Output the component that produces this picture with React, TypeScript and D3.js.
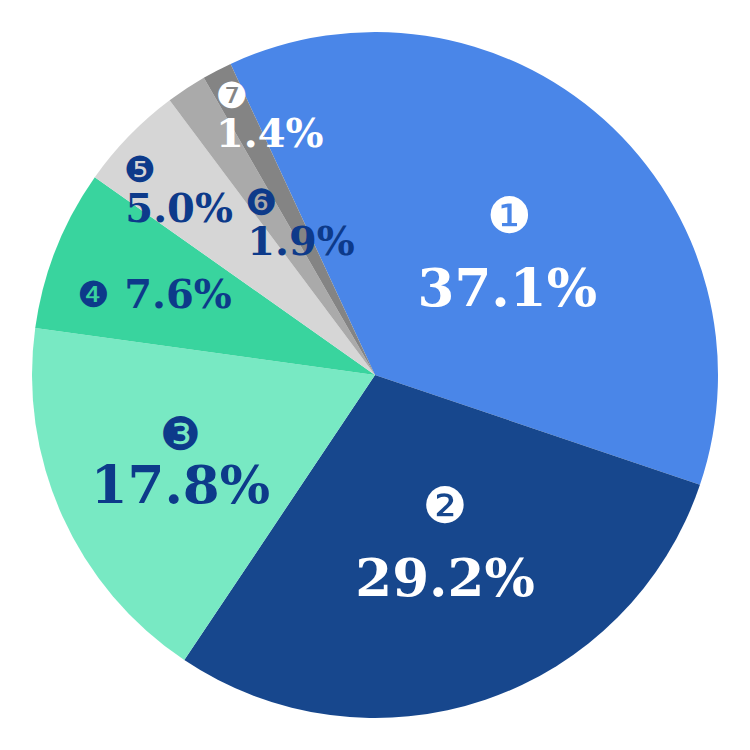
import React, { useRef, useEffect } from 'react';
import * as d3 from 'd3';

// slice data, clockwise from the top
const markers = ['❶', '❷', '❸', '❹', '❺', '❻', '❼'];
const shares = [37.1, 29.2, 17.8, 7.6, 5.0, 1.9, 1.4];
const sliceColors = ['#4a86e8', '#17478d', '#78e9c3', '#39d49e', '#d6d6d6', '#aaaaaa', '#848484'];
const labelColors = ['#ffffff', '#ffffff', '#0d3a8a', '#0d3a8a', '#0d3a8a', '#0d3a8a', '#ffffff'];

// label placement: polar position of the text centre (deg from top, radius),
// marker offset from that centre, and font sizes
const labelLayout = [
  { a: 56.3, r: 159, mx: 2, my: -72, fs: 53, ms: 50 },
  { a: 160.9, r: 214, mx: 0, my: -72, fs: 53, ms: 50 },
  { a: 240.8, r: 223, mx: 0, my: -50, fs: 53, ms: 46 },
  { a: 292.4, r: 213, mx: -85, my: 0, fs: 40, ms: 36 },
  { a: 310.6, r: 258, mx: -39, my: -38, fs: 40, ms: 36 },
  { a: 331.1, r: 153, mx: -40, my: -39, fs: 40, ms: 36 },
  { a: 336.5, r: 264, mx: -38, my: -38, fs: 40, ms: 36 },
];

const W = 750;
const H = 750;
const START = -24.9; // degrees

const App: React.FC = () => {
  const svgRef = useRef<SVGSVGElement>(null);

  useEffect(() => {
    const svg = d3.select(svgRef.current);
    svg.selectAll('*').remove();

    const cx = 375;
    const cy = 375;
    const radius = 343;
    const rad = (deg: number) => (deg * Math.PI) / 180;

    const g = svg.append('g').attr('transform', `translate(${cx},${cy})`);

    const pie = d3.pie<number>()
      .sort(null)
      .value(d => d)
      .startAngle(rad(START))
      .endAngle(rad(START + 360));

    const arc = d3.arc<d3.PieArcDatum<number>>()
      .innerRadius(0)
      .outerRadius(radius);

    const arcs = pie(shares);

    g.selectAll('.slice')
      .data(arcs)
      .enter().append('path')
      .attr('class', 'slice')
      .attr('d', arc)
      .attr('fill', (_, i) => sliceColors[i]);

    const font = "'DejaVu Serif', 'Liberation Serif', serif";

    arcs.forEach((_, i) => {
      const L = labelLayout[i];
      const x = L.r * Math.sin(rad(L.a));
      const y = -L.r * Math.cos(rad(L.a));

      g.append('text')
        .attr('x', x)
        .attr('y', y)
        .attr('dy', '0.36em')
        .attr('text-anchor', 'middle')
        .style('font-family', font)
        .style('font-weight', 'bold')
        .style('font-size', `${L.fs}px`)
        .style('fill', labelColors[i])
        .text(`${shares[i].toFixed(1)}%`);

      g.append('text')
        .attr('x', x + L.mx)
        .attr('y', y + L.my)
        .attr('dy', '0.36em')
        .attr('text-anchor', 'middle')
        .style('font-family', "'DejaVu Sans', sans-serif")
        .style('font-size', `${L.ms}px`)
        .style('fill', labelColors[i])
        .text(markers[i]);
    });
  }, []);

  return (
    <svg ref={svgRef} width={W} height={H} style={{ position: 'absolute', left: 0, top: 0 }} />
  );
};

export default App;
